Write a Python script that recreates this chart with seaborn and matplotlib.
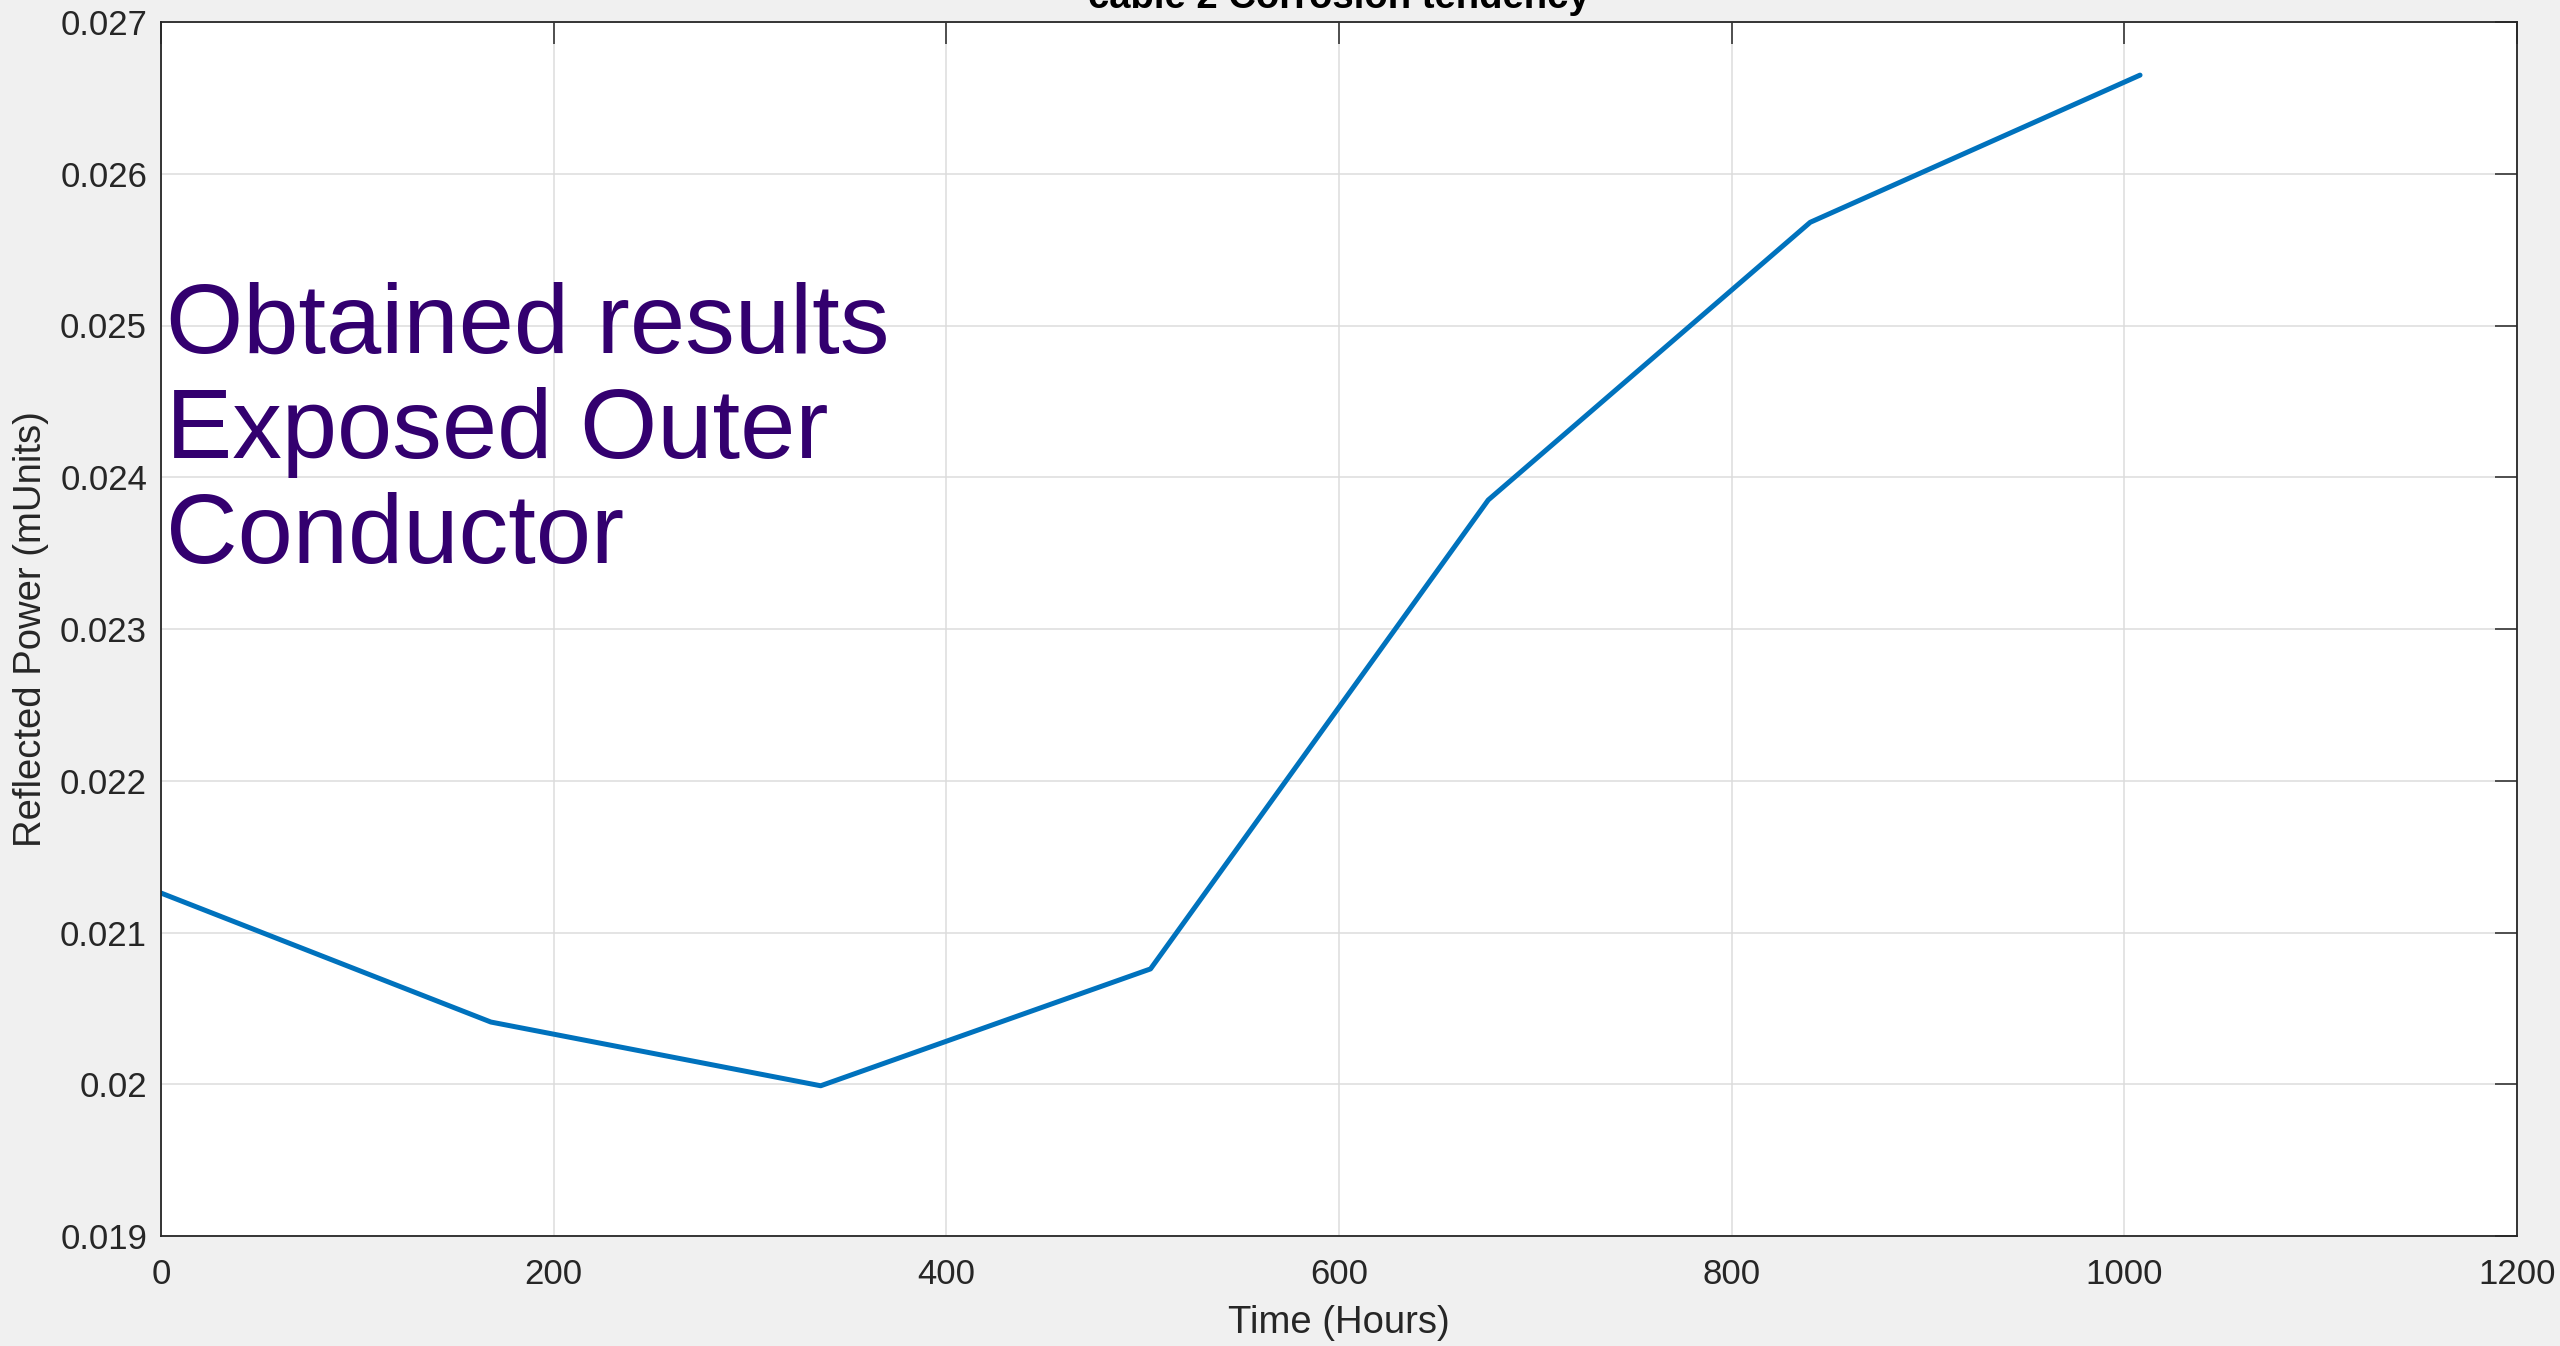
import numpy as np
import pandas as pd
import matplotlib
matplotlib.use("Agg")
import matplotlib.pyplot as plt
import seaborn as sns
from matplotlib.ticker import FuncFormatter

# Data (hours vs reflected power)
time_hours = [0, 168, 336, 504, 676, 840, 1008]
reflected_power = [0.02126, 0.02041, 0.01999, 0.02076, 0.02385, 0.02568, 0.02665]

x_ticks = [0, 200, 400, 600, 800, 1000, 1200]
y_ticks = [0.019, 0.020, 0.021, 0.022, 0.023, 0.024, 0.025, 0.026, 0.027]

title = "cable 2 Corrosion tendency"
x_label = "Time (Hours)"
y_label = "Reflected Power (mUnits)"
note = "Obtained results\nExposed Outer\nConductor"

df = pd.DataFrame({"Time": time_hours, "Power": reflected_power})

sns.set_style("whitegrid")
plt.rcParams['font.family'] = ['Liberation Sans', 'DejaVu Sans']

fig = plt.figure(figsize=(25.6, 13.46), dpi=100, facecolor='#f0f0f0')
ax = fig.add_axes([161 / 2560, 1 - 1236 / 1346, 2356 / 2560, 1214 / 1346])
ax.set_facecolor('white')

sns.lineplot(data=df, x="Time", y="Power", ax=ax, color='#0072BD', linewidth=3.6)

ax.set_xlim(0, 1200)
ax.set_ylim(0.019, 0.027)
ax.set_xticks(x_ticks)
ax.set_yticks(y_ticks)
ax.yaxis.set_major_formatter(FuncFormatter(lambda v, p: "%g" % round(v, 4)))

ax.grid(True, color='#dcdcdc', linewidth=1.1)
for s in ax.spines.values():
    s.set_visible(True)
    s.set_color('#262626')
    s.set_linewidth(1.3)

ax.tick_params(axis='both', which='major', direction='in', length=16, width=1.1,
               color='#262626', labelcolor='#262626', labelsize=25,
               top=True, right=True)
ax.tick_params(axis='x', pad=16)
ax.tick_params(axis='y', pad=10)

ax.set_xlabel(x_label, fontsize=27.5, color='#262626', labelpad=10)
ax.set_ylabel(y_label, fontsize=27.5, color='#262626', labelpad=8)
# title sits mostly above the figure edge, as in the original
ax.set_title(title, fontsize=27.5, fontweight='bold', color='black', y=1.0, pad=10)

# baseline of the last line of the note
ax.text(0.002, 1 - (563 - 22) / 1214, note, transform=ax.transAxes,
        ha='left', va='baseline', fontsize=71.5, color='#33006f', linespacing=1.2)

fig.savefig("out.png", dpi=100, facecolor=fig.get_facecolor())
